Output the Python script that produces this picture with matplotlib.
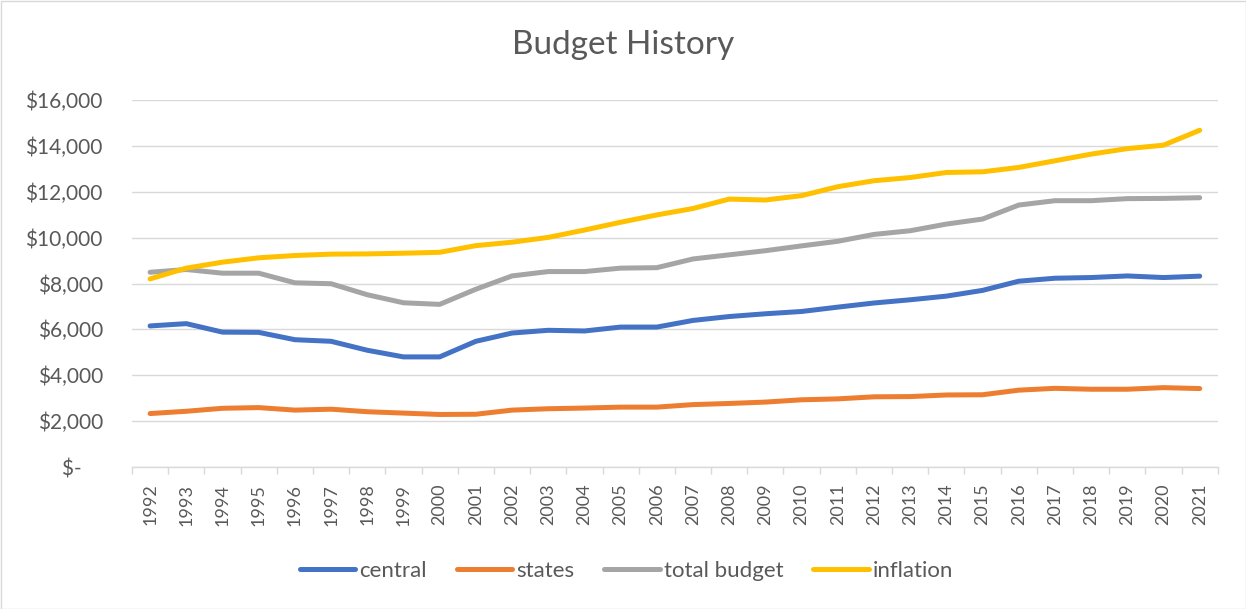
import matplotlib
matplotlib.use("Agg")
import matplotlib.pyplot as plt
from matplotlib.ticker import FuncFormatter, FixedLocator
from matplotlib.patches import Rectangle

years = list(range(1992, 2022))
central = [6150, 6250, 5880, 5870, 5550, 5480, 5090, 4800, 4800, 5480,
           5840, 5960, 5930, 6100, 6100, 6390, 6560, 6680, 6780, 6970,
           7150, 7290, 7450, 7700, 8100, 8230, 8260, 8330, 8260, 8320]
states = [2330, 2430, 2560, 2590, 2480, 2520, 2410, 2350, 2290, 2300,
          2480, 2540, 2570, 2610, 2610, 2720, 2770, 2830, 2930, 2970,
          3060, 3070, 3140, 3150, 3350, 3430, 3390, 3390, 3460, 3420]
total_budget = [8490, 8610, 8450, 8450, 8030, 7990, 7510, 7160, 7090, 7750,
                8330, 8520, 8520, 8670, 8690, 9070, 9250, 9430, 9640, 9840,
                10140, 10300, 10590, 10810, 11420, 11610, 11610, 11700, 11710, 11740]
inflation = [8200, 8670, 8930, 9120, 9220, 9280, 9290, 9320, 9360, 9650,
             9800, 10010, 10330, 10670, 10990, 11270, 11680, 11640, 11830, 12220,
             12480, 12620, 12840, 12870, 13060, 13350, 13640, 13880, 14030, 14680]

series = [("central", central, "#4472C4"),
          ("states", states, "#ED7D31"),
          ("total budget", total_budget, "#A5A5A5"),
          ("inflation", inflation, "#FFC000")]

plt.rcParams['font.family'] = ['Lato', 'DejaVu Sans']
txt = "#595959"

fig = plt.figure(figsize=(12.46, 6.09), dpi=100)
ax = fig.add_axes([132/1246, 1-467/609, (1217.8-132)/1246, (467-100)/609])

x = list(range(len(years)))
for name, vals, col in series:
    ax.plot(x, vals, color=col, lw=3.6, label=name, solid_capstyle='round',
            solid_joinstyle='round')

ax.set_xlim(-0.5, len(years) - 0.5)
ax.set_ylim(0, 16000)
ax.set_yticks(range(0, 16001, 2000))

def fmt(v, pos):
    if v == 0:
        return "$-    "
    return "${:,.0f}".format(v)
ax.yaxis.set_major_formatter(FuncFormatter(fmt))
ax.grid(axis='y', color='#D9D9D9', lw=1)
ax.set_axisbelow(True)

ax.set_xticks(x)
ax.set_xticklabels([str(y) for y in years], rotation=90)
ax.xaxis.set_minor_locator(FixedLocator([i - 0.5 for i in range(len(years) + 1)]))
ax.tick_params(axis='x', which='major', length=0, pad=12, labelsize=13, labelcolor=txt)
ax.tick_params(axis='x', which='minor', length=5, width=1, color='#D9D9D9', direction='out')
ax.tick_params(axis='y', length=0, pad=21, labelsize=15, labelcolor=txt)

for s in ['top', 'right', 'left']:
    ax.spines[s].set_visible(False)
ax.spines['bottom'].set_color('#D9D9D9')
ax.spines['bottom'].set_linewidth(1)

fig.text(0.5, 1-45/609, "Budget History", ha='center', va='center',
         fontsize=24, color=txt)

leg = fig.legend(loc='center', bbox_to_anchor=(626.5/1246, 1-571/609), ncol=4,
                 frameon=False, fontsize=16, handlelength=2.5, handletextpad=0.18,
                 columnspacing=1.35, labelcolor=txt)

fig.patches.append(Rectangle((0.5/1246, 0.5/609), 1-1/1246, 1-1/609,
                             transform=fig.transFigure, fill=False,
                             edgecolor='#D9D9D9', lw=1))

fig.savefig("out.png", dpi=100, facecolor='white')
